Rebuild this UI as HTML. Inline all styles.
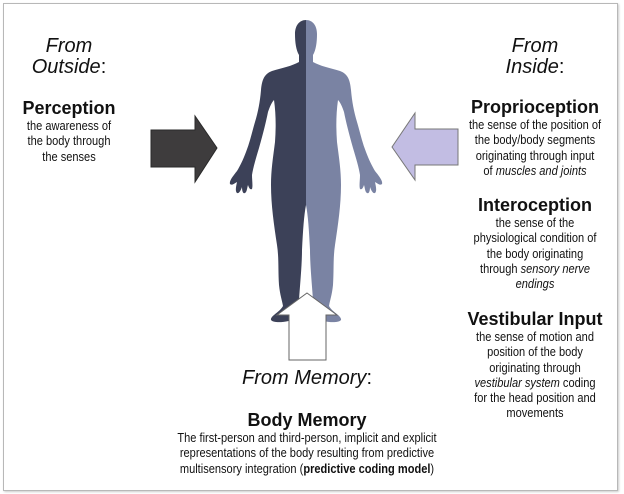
<!DOCTYPE html>
<html><head><meta charset="utf-8"><style>
html,body{margin:0;padding:0;background:#fff}
body{width:624px;height:494px;position:relative;overflow:hidden;font-family:"Liberation Sans",Arial,sans-serif;color:#111}
.frame{position:absolute;left:3px;top:3px;width:613px;height:486px;border:1px solid #b8b8b8;box-shadow:1px 1px 2px #ccc}
.blk{position:absolute;width:240px;text-align:center}
.h{font-weight:bold;font-size:18px;line-height:19px}
.fr{font-style:italic;font-size:20px;line-height:21px}
.t{font-size:13px;line-height:15.3px;transform:scaleX(0.85);transform-origin:center top;white-space:nowrap}
</style></head><body>
<div class="frame"></div>
<svg width="624" height="494" style="position:absolute;left:0;top:0">
<path d="M306,20 C299,20 295,26 295,34 C295,42 296,50 299,55 L299,62 C292,66 282,68 272,71 C264,74 262,80 261,90 C260,102 258,112 255,122 C252,132 250,142 246,152 C243,160 240,166 237,171 C233,176 229,181 230,184 C232,186 235,183 237,182 C236,187 235,191 237,193 C239,194 241,190 242,187 C242,191 243,194 245,193 C247,192 247,188 248,185 C249,188 250,190 252,189 C253,186 252,180 252,175 C253,168 256,158 259,148 C263,134 266,122 268,112 C270,106 272,102 274,100 C276,114 276,128 275,142 C273,158 271,170 271,185 C271,205 274,225 277,245 C279,258 278,270 279,285 C280,295 282,300 283,306 C280,312 270,316 271,320 C274,324 290,322 297,318 C299,313 300,307 299,300 C300,285 302,265 302,250 C303,230 304,215 306,205 Z" fill="#3c4158"/>
<path d="M306,20 C313,20 317,26 317,34 C317,42 316,50 313,55 L313,62 C320,66 330,68 340,71 C348,74 350,80 351,90 C352,102 354,112 357,122 C360,132 362,142 366,152 C369,160 372,166 375,171 C379,176 383,181 382,184 C380,186 377,183 375,182 C376,187 377,191 375,193 C373,194 371,190 370,187 C370,191 369,194 367,193 C365,192 365,188 364,185 C363,188 362,190 360,189 C359,186 360,180 360,175 C359,168 356,158 353,148 C349,134 346,122 344,112 C342,106 340,102 338,100 C336,114 336,128 337,142 C339,158 341,170 341,185 C341,205 338,225 335,245 C333,258 334,270 333,285 C332,295 330,300 329,306 C332,312 342,316 341,320 C338,324 322,322 315,318 C313,313 312,307 313,300 C312,285 310,265 310,250 C309,230 308,215 306,205 Z" fill="#7a83a3"/>
<polygon points="151,130 195,130 195,116 217,148 195,182 195,167 151,167" fill="#3e3c3d" stroke="#2a2a2a" stroke-width="1"/>
<polygon points="458,129 415,129 415,113 392,147 415,180 415,165 458,165" fill="#c2bde3" stroke="#777" stroke-width="1"/>
<polygon points="307,293 337,315 326,315 326,360 289,360 289,315 277,315" fill="#fff" stroke="#666" stroke-width="1"/>
</svg>
<div class="blk" style="left:-51px;top:36px"><div class="fr">From</div><div class="fr"><i>Outside</i><span style="font-style:normal">:</span></div></div>
<div class="blk" style="left:-51px;top:99px"><div class="h">Perception</div><div class="t">the awareness of<br>the body through<br>the senses</div></div>
<div class="blk" style="left:415px;top:36px"><div class="fr">From</div><div class="fr"><i>Inside</i><span style="font-style:normal">:</span></div></div>
<div class="blk" style="left:415px;top:98px"><div class="h">Proprioception</div><div class="t">the sense of the position of<br>the body/body segments<br>originating through input<br>of <i>muscles and joints</i></div></div>
<div class="blk" style="left:415px;top:196px"><div class="h">Interoception</div><div class="t">the sense of the<br>physiological condition of<br>the body originating<br>through <i>sensory nerve<br>endings</i></div></div>
<div class="blk" style="left:415px;top:310px"><div class="h">Vestibular Input</div><div class="t">the sense of motion and<br>position of the body<br>originating through<br><i>vestibular system</i> coding<br>for the head position and<br>movements</div></div>
<div class="blk" style="left:187px;top:368px"><div class="fr"><i>From Memory</i><span style="font-style:normal">:</span></div></div>
<div class="blk" style="left:107px;top:411px;width:400px"><div class="h">Body Memory</div><div class="t">The first-person and third-person, implicit and explicit<br>representations of the body resulting from predictive<br>multisensory integration (<b>predictive coding model</b>)</div></div>
</body></html>
